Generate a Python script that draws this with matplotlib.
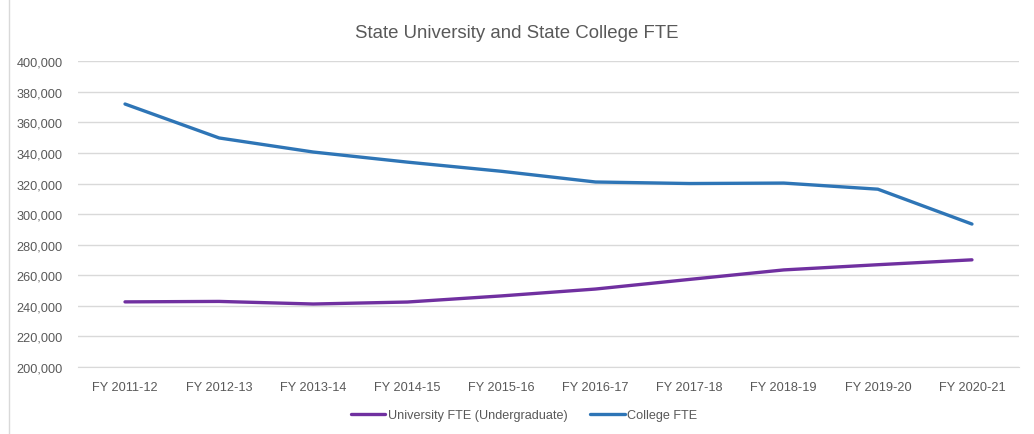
import matplotlib.pyplot as plt
from matplotlib.ticker import FuncFormatter
from matplotlib.patches import Rectangle

years = ['FY 2011-12', 'FY 2012-13', 'FY 2013-14', 'FY 2014-15', 'FY 2015-16',
         'FY 2016-17', 'FY 2017-18', 'FY 2018-19', 'FY 2019-20', 'FY 2020-21']
university_fte = [242600, 242900, 241200, 242500, 246500, 251000, 257300, 263500, 266900, 270100]
college_fte = [372000, 349800, 340600, 334000, 328000, 321000, 320000, 320300, 316300, 293500]

plt.rcParams['font.family'] = ['Liberation Sans', 'DejaVu Sans']

fig = plt.figure(figsize=(10.34, 4.35), dpi=100)
ax = fig.add_axes([0.0754, 0.154, 0.9101, 0.703])

x = range(len(years))
ax.plot(x, university_fte, color='#7030a0', linewidth=2.4,
        label='University FTE (Undergraduate)', solid_capstyle='round')
ax.plot(x, college_fte, color='#2e75b6', linewidth=2.4,
        label='College FTE', solid_capstyle='round')

ax.set_xlim(-0.5, len(years) - 0.5)
ax.set_ylim(200000, 400000)
ax.set_yticks(range(200000, 400001, 20000))
ax.yaxis.set_major_formatter(FuncFormatter(lambda v, p: '{:,.0f}'.format(v)))
ax.set_xticks(list(x))
ax.set_xticklabels(years)
ax.tick_params(length=0, labelsize=9.2, colors='#595959', pad=10)
ax.tick_params(axis='y', pad=11)

ax.grid(axis='y', color='#d9d9d9', linewidth=1)
ax.set_axisbelow(True)
for s in ['top', 'right', 'left']:
    ax.spines[s].set_visible(False)
ax.spines['bottom'].set_color('#d9d9d9')

fig.text(0.5, 0.922, 'State University and State College FTE', ha='center', va='center',
         fontsize=13.4, color='#595959')

fig.legend(loc='center', bbox_to_anchor=(0.507, 0.043), ncol=2, frameon=False,
           fontsize=9.1, handlelength=2.7, columnspacing=1.8, handletextpad=0.2,
           labelcolor='#595959')

fig.patches.append(Rectangle((0.009, -0.01), 1.0, 1.02, transform=fig.transFigure,
                             fill=False, edgecolor='#d9d9d9', linewidth=1))

plt.savefig('out.png', dpi=100)
